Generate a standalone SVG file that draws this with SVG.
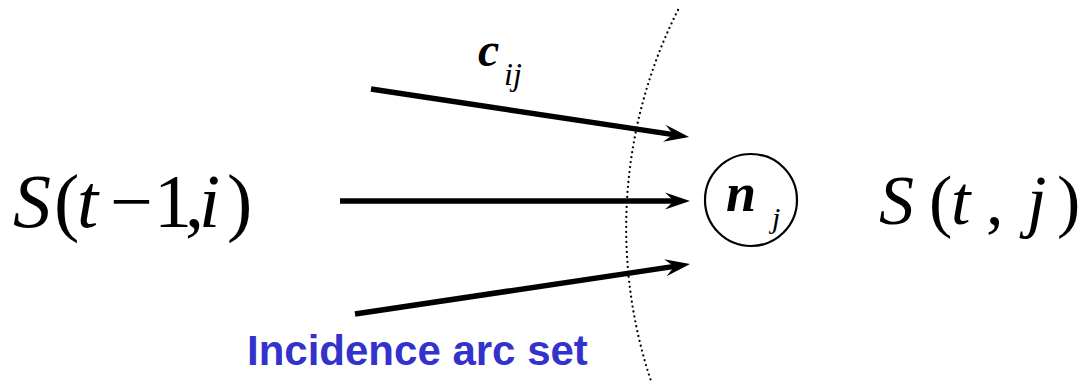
<svg xmlns="http://www.w3.org/2000/svg" width="1083" height="387" viewBox="0 0 1083 387">
<style>
.m{font-family:'Liberation Serif',serif;fill:#000}
.i{font-style:italic}
.lbl{font-family:'Liberation Sans',sans-serif;font-weight:bold;font-size:42px;fill:#3333cc}
.arc{fill:none;stroke:#000;stroke-width:5.5}
</style>
<defs>
<marker id="ah" markerUnits="userSpaceOnUse" markerWidth="30" markerHeight="20" viewBox="0 0 30 20" refX="14" refY="10" orient="auto">
<path d="M28,10 L3,1.5 L12,10 L3,18.5 Z" fill="#000"/>
</marker>
</defs>
<rect width="1083" height="387" fill="#fff"/>
<path id="boundary" d="M678,10 A484.5,484.5 0 0 0 652,384" fill="none" stroke="#000" stroke-width="2.3" stroke-linecap="round" stroke-dasharray="0 5"/>
<g id="connectors">
<line class="arc" x1="371" y1="89" x2="675.2" y2="134.9" marker-end="url(#ah)"/>
<line class="arc" x1="340" y1="201" x2="676" y2="201" marker-end="url(#ah)"/>
<line class="arc" x1="355" y1="314" x2="676.2" y2="266.1" marker-end="url(#ah)"/>
</g>
<g id="source">
<text class="m" font-size="76" y="227"><tspan class="i" x="13">S</tspan><tspan x="54">(</tspan><tspan class="i" x="77">t</tspan><tspan x="110">−</tspan><tspan x="154">1</tspan><tspan x="185">,</tspan><tspan class="i" x="199">i</tspan><tspan x="227">)</tspan></text>
</g>
<g id="label-cij">
<text class="m i" font-size="48" font-weight="bold" x="478" y="66">c</text>
<text class="m i" font-size="32" x="504" y="85">ij</text>
</g>
<g id="node-nj">
<ellipse cx="751" cy="200" rx="46" ry="46" fill="none" stroke="#000" stroke-width="2.2"/>
<text class="m i" font-size="54" font-weight="bold" x="726" y="211">n</text>
<text class="m i" font-size="30" x="772" y="228">j</text>
</g>
<g id="target">
<text class="m" font-size="70" y="224"><tspan class="i" x="879">S</tspan><tspan x="929">(</tspan><tspan class="i" x="951">t</tspan><tspan x="986">,</tspan><tspan class="i" x="1027">j</tspan><tspan x="1057">)</tspan></text>
</g>
<g id="label-incidence">
<text class="lbl" x="247" y="365">Incidence arc set</text>
</g>
</svg>
